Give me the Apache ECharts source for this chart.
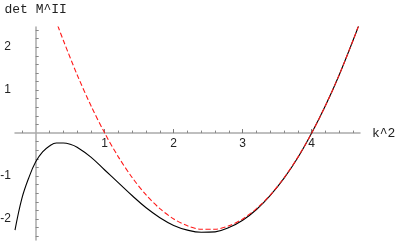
<!DOCTYPE html>
<html>
<head>
<meta charset="utf-8">
<script src="https://cdn.jsdelivr.net/npm/echarts@6/dist/echarts.min.js"></script>
<style>html,body{margin:0;padding:0;background:#fff}#c{width:400px;height:242px}</style>
</head>
<body>
<div id="c"></div>
<script>
const blackK = [-0.3,-0.2,-0.1,0,0.1,0.2,0.3,0.4,0.5,0.6,0.8,1.0,1.2,1.4,1.6,1.8,2.0,2.2,2.4,2.6,2.8,3.0,3.2,3.4,3.6,3.8,4.0,4.2,4.4,4.6,4.68];
const blackVals = [-2.26,-1.52,-1.04,-0.67,-0.44,-0.30,-0.23,-0.23,-0.26,-0.33,-0.56,-0.86,-1.16,-1.46,-1.74,-1.97,-2.15,-2.26,-2.31,-2.30,-2.20,-2.03,-1.78,-1.45,-1.05,-0.57,0.0,0.64,1.36,2.16,2.50];
const redK = [0.32,0.4,0.6,0.8,1.0,1.2,1.4,1.6,1.8,2.0,2.2,2.4,2.6,2.8,3.0,3.2,3.4,3.6,3.8,4.0,4.2,4.4,4.6,4.68];
const redVals = [2.50,2.16,1.36,0.64,0,-0.56,-1.04,-1.44,-1.76,-2.0,-2.16,-2.24,-2.24,-2.16,-2.0,-1.76,-1.44,-1.04,-0.56,0,0.64,1.36,2.16,2.50];
const xLabels = [1,2,3,4];
const yLabels = [-2,-1,1,2];
const xTicks = [-0.2,0.2,0.4,0.6,0.8,1,1.2,1.4,1.6,1.8,2,2.2,2.4,2.6,2.8,3,3.2,3.4,3.6,3.8,4,4.2,4.4,4.6];
const yTicks = [-2.4,-2.2,-2,-1.8,-1.6,-1.4,-1.2,-1,-0.8,-0.6,-0.4,-0.2,0.2,0.4,0.6,0.8,1,1.2,1.4,1.6,1.8,2,2.2,2.4];

const xMin = -0.3, xMax = 4.7, yMin = -2.49, yMax = 2.47;
const gridTop = 27, gridBottom = 2, chartH = 242;
// offset of the zero line from the grid top (for the label axis)
const zeroOffset = (chartH - gridTop - gridBottom) * yMax / (yMax - yMin);

const chart = echarts.init(document.getElementById('c'), null, {renderer: 'canvas'});
const labelFont = {fontFamily: 'Liberation Sans, Arial, sans-serif', fontSize: 12, color: '#222'};
chart.setOption({
  animation: false,
  grid: {left: 15, right: 40, top: gridTop, bottom: gridBottom, containLabel: false, outerBoundsMode: 'none'},
  xAxis: [{
    type: 'value', min: xMin, max: xMax, position: 'bottom',
    axisLine: {onZero: true, lineStyle: {color: '#aaa', width: 1.5}},
    axisTick: {show: true, inside: true, length: 2.5, customValues: xTicks, lineStyle: {color: '#888', width: 1}},
    axisLabel: {show: false},
    splitLine: {show: false},
    name: 'k^2', nameLocation: 'end', nameGap: 12,
    nameTextStyle: {fontFamily: 'Liberation Mono, Courier New, monospace', fontSize: 13, color: '#222', verticalAlign: 'middle'}
  }, {
    type: 'value', min: xMin, max: xMax, position: 'top', offset: -zeroOffset,
    axisLine: {show: false, onZero: false},
    axisTick: {show: true, inside: false, length: 4, customValues: xLabels, lineStyle: {color: '#777', width: 1}},
    axisLabel: Object.assign({show: true, inside: true, customValues: xLabels, margin: 5, verticalAlign: 'top'}, labelFont),
    splitLine: {show: false}
  }],
  yAxis: {
    type: 'value', min: yMin, max: yMax,
    axisLine: {onZero: true, lineStyle: {color: '#aaa', width: 1.5}},
    axisTick: {show: true, inside: true, length: 3, customValues: yTicks, lineStyle: {color: '#888', width: 1}},
    axisLabel: Object.assign({show: true, customValues: yLabels, margin: 4}, labelFont),
    splitLine: {show: false},
    name: 'det M^II', nameLocation: 'end', nameGap: 11,
    nameTextStyle: {fontFamily: 'Liberation Mono, Courier New, monospace', fontSize: 13, color: '#222'}
  },
  series: [{
    type: 'line', xAxisIndex: 0,
    data: blackK.map((k, i) => [k, blackVals[i]]),
    showSymbol: false, smooth: 0.4,
    lineStyle: {color: '#000', width: 1.1}
  }, {
    type: 'line', xAxisIndex: 0,
    data: redK.map((k, i) => [k, redVals[i]]),
    showSymbol: false, smooth: 0.3,
    lineStyle: {color: '#ff1a1a', width: 1.1, type: [5, 2.5]}
  }]
});
</script>
</body>
</html>
